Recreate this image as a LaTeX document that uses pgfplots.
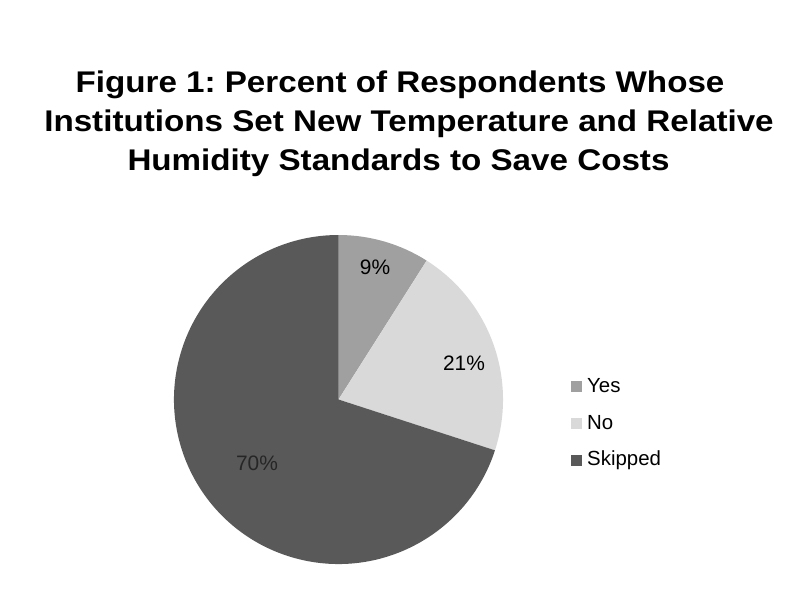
\documentclass[border=0pt]{standalone}
\usepackage{fontspec}
\setmainfont{Liberation Sans}
\usepackage{pgfplots}
\usepackage{pgfplotstable}
\pgfplotsset{compat=1.18}
\frenchspacing

\definecolor{yescol}{HTML}{A0A0A0}
\definecolor{nocol}{HTML}{D9D9D9}
\definecolor{skipcol}{HTML}{595959}

% share of respondents, in percent
\pgfplotstableread{
label   value
Yes     9
No      21
Skipped 70
}\piedata
\pgfplotstablegetelem{0}{value}\of\piedata \let\va\pgfplotsretval
\pgfplotstablegetelem{1}{value}\of\piedata \let\vb\pgfplotsretval
\pgfplotstablegetelem{2}{value}\of\piedata \let\vc\pgfplotsretval
\pgfmathsetmacro\aa{90-3.6*\va}
\pgfmathsetmacro\ab{\aa-3.6*\vb}
\pgfmathsetmacro\ac{\ab-3.6*\vc}

\newcommand\ttl[1]{\scalebox{1.11}[1]{\bfseries\fontsize{30}{34}\selectfont #1}}

\begin{document}
\begin{tikzpicture}
\begin{axis}[
  width=800bp, height=600bp, scale only axis,
  xmin=0, xmax=800, ymin=0, ymax=600, y dir=reverse,
  hide axis, clip=false,
]
% slices, clockwise from 12 o'clock
\fill[yescol]  (axis cs:338.5,399.5) -- ++(90:164.5bp)  arc[start angle=90,  end angle=\aa, radius=164.5bp] -- cycle;
\fill[nocol]   (axis cs:338.5,399.5) -- ++(\aa:164.5bp) arc[start angle=\aa, end angle=\ab, radius=164.5bp] -- cycle;
\fill[skipcol] (axis cs:338.5,399.5) -- ++(\ab:164.5bp) arc[start angle=\ab, end angle=\ac, radius=164.5bp] -- cycle;
% slice labels
\node[font=\fontsize{21}{24}\selectfont] at (axis cs:375,267) {\va\%};
\node[font=\fontsize{21}{24}\selectfont] at (axis cs:464,363) {\vb\%};
\node[font=\fontsize{21}{24}\selectfont, text=black!85] at (axis cs:257,463) {\vc\%};
% legend
\fill[yescol]  (axis cs:571,381) rectangle (axis cs:582,392);
\fill[nocol]   (axis cs:571,418) rectangle (axis cs:582,429);
\fill[skipcol] (axis cs:571,455) rectangle (axis cs:582,466);
\node[anchor=west, inner sep=0pt, font=\fontsize{20.5}{24}\selectfont] at (axis cs:587,386) {Yes};
\node[anchor=west, inner sep=0pt, font=\fontsize{20.5}{24}\selectfont] at (axis cs:587,423) {No};
\node[anchor=west, inner sep=0pt, font=\fontsize{20.5}{24}\selectfont] at (axis cs:587,460) {Skipped};
% title
\node[anchor=base] at (axis cs:400,93)   {\ttl{Figure 1: Percent of Respondents Whose}};
\node[anchor=base] at (axis cs:409,132)  {\ttl{Institutions Set New Temperature and Relative}};
\node[anchor=base] at (axis cs:398.5,171) {\ttl{Humidity Standards to Save Costs}};
\end{axis}
\pgfresetboundingbox
\path[use as bounding box] (current axis.south west) rectangle (current axis.north east);
\end{tikzpicture}
\end{document}
